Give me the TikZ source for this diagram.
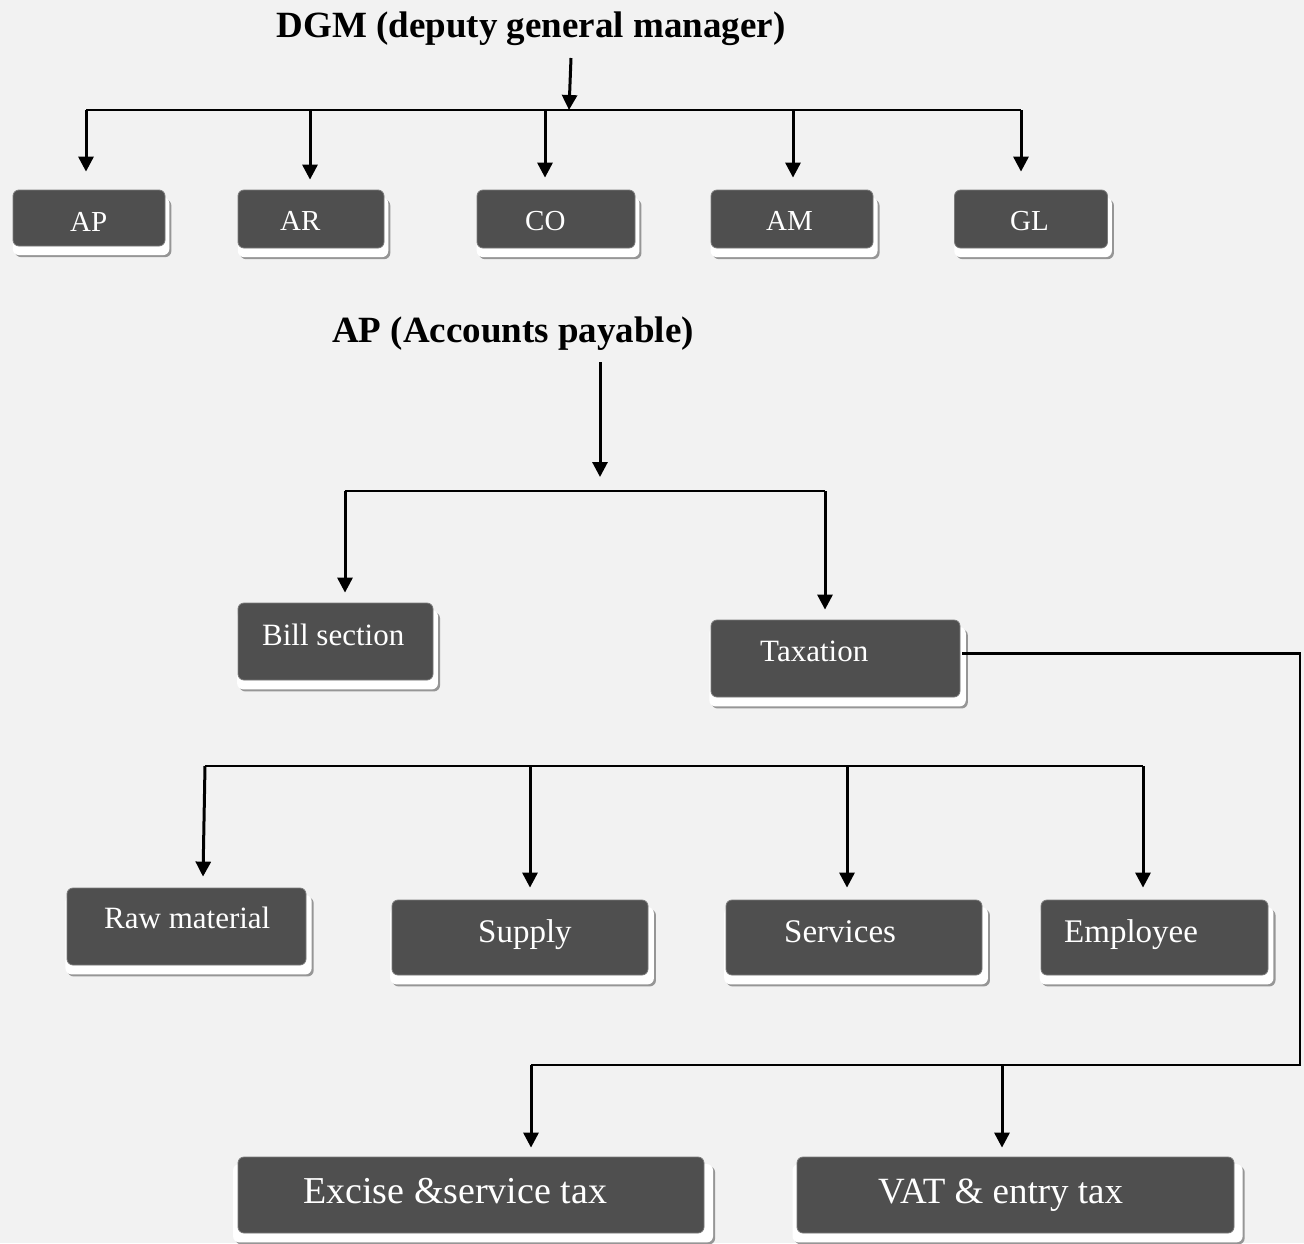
\documentclass[tikz,border=0pt]{standalone}
\usepackage{fontspec}
\setmainfont{Liberation Serif}
\usetikzlibrary{arrows.meta,shadows}
\definecolor{boxgray}{RGB}{79,79,79}
\definecolor{pagegray}{RGB}{242,242,242}
\definecolor{shadowgray}{RGB}{150,150,150}
\tikzset{
  unitbox/.style={rectangle,rounded corners=6pt,fill=boxgray,draw=boxgray!75!white,line width=0.8pt,inner sep=0pt,
    general shadow={shadow xshift=4pt,shadow yshift=-10pt,shadow scale=1.03,fill=shadowgray},
    general shadow={shadow xshift=2pt,shadow yshift=-8pt,shadow scale=1.03,fill=white}},
  unittext/.style={text=white,inner sep=0pt,anchor=base west},
  titletext/.style={inner sep=0pt,anchor=base,font=\fontsize{37}{42}\selectfont\bfseries},
  droparrow/.style={-{Triangle[length=15pt,width=15pt]},line width=3pt},
  busline/.style={line width=2.4pt}
}
\begin{document}
\begin{tikzpicture}[x=1pt,y=-1pt]
        % Page
        \fill[pagegray](0,0)rectangle(1304,1243);
        \useasboundingbox(0,0)rectangle(1304,1243);
        % Headings
        \node[titletext](dgm)at(531,37){DGM (deputy general manager)};
        \node[titletext](aphead)at(513,342){AP (Accounts payable)};
        % Modules under DGM
        \node[unitbox,minimum width=152pt,minimum height=56pt](ap)at(89,218){};
        \node[unitbox,minimum width=146pt,minimum height=58pt](ar)at(311,219){};
        \node[unitbox,minimum width=158pt,minimum height=58pt](co)at(556,219){};
        \node[unitbox,minimum width=162pt,minimum height=58pt](am)at(792,219){};
        \node[unitbox,minimum width=153pt,minimum height=58pt](gl)at(1031,219){};
        \node[unittext,font=\fontsize{29}{33}\selectfont](aptext)at(70,231){AP};
        \node[unittext,font=\fontsize{29}{33}\selectfont](artext)at(280,230){AR};
        \node[unittext,font=\fontsize{29}{33}\selectfont](cotext)at(525,230){CO};
        \node[unittext,font=\fontsize{29}{33}\selectfont](amtext)at(766,230){AM};
        \node[unittext,font=\fontsize{29}{33}\selectfont](gltext)at(1010,230){GL};
        % Sections under AP
        \node[unitbox,minimum width=195pt,minimum height=77pt](bill)at(335.5,641.5){};
        \node[unitbox,minimum width=249pt,minimum height=77pt](tax)at(835.5,658.5){};
        \node[unittext,font=\fontsize{31}{35}\selectfont](billtext)at(262,645){Bill section};
        \node[unittext,font=\fontsize{31}{35}\selectfont](taxtext)at(760,661){Taxation};
        % Payable groups
        \node[unitbox,minimum width=239pt,minimum height=77pt](raw)at(186.5,926.5){};
        \node[unitbox,minimum width=256pt,minimum height=75pt](supply)at(520,937.5){};
        \node[unitbox,minimum width=256pt,minimum height=75pt](serv)at(854,937.5){};
        \node[unitbox,minimum width=227pt,minimum height=75pt](emp)at(1154.5,937.5){};
        \node[unittext,font=\fontsize{31}{35}\selectfont](rawtext)at(104,928){Raw material};
        \node[unittext,font=\fontsize{33}{37}\selectfont](supplytext)at(478,942){Supply};
        \node[unittext,font=\fontsize{33}{37}\selectfont](servtext)at(784,942){Services};
        \node[unittext,font=\fontsize{33}{37}\selectfont](emptext)at(1064,942){Employee};
        % Taxes
        \node[unitbox,minimum width=466pt,minimum height=76pt](excise)at(471,1195){};
        \node[unitbox,minimum width=437pt,minimum height=76pt](vat)at(1015.5,1195){};
        \node[unittext,font=\fontsize{38}{42}\selectfont](excisetext)at(303,1203){Excise \&service tax};
        \node[unittext,font=\fontsize{37}{41}\selectfont](vattext)at(878,1203){VAT \& entry tax};
        % Junctions
        \coordinate(dgmfoot)at(571,58);
        \coordinate(dgmjoin)at(569,110);
        \coordinate(topleft)at(86,110);
        \coordinate(topright)at(1021,110);
        \coordinate(apfoot)at(600,362);
        \coordinate(aptip)at(600,477);
        \coordinate(apleft)at(345,491);
        \coordinate(apright)at(825,491);
        \coordinate(groupleft)at(205,766);
        \coordinate(groupright)at(1143,766);
        \coordinate(taxturn)at(1300,1065);
        \coordinate(taxleft)at(531,1065);
        % DGM tree
        \draw[droparrow](dgmfoot)--(dgmjoin);
        \draw[busline](topleft)--(topright);
        \draw[droparrow](topleft)--([xshift=-3pt,yshift=18pt]ap.north);
        \draw[droparrow](310,110)--([xshift=-1pt,yshift=10pt]ar.north);
        \draw[droparrow](545,110)--([xshift=-11pt,yshift=12pt]co.north);
        \draw[droparrow](793,110)--([xshift=1pt,yshift=12pt]am.north);
        \draw[droparrow](topright)--([xshift=-10pt,yshift=18pt]gl.north);
        % AP tree
        \draw[droparrow](apfoot)--(aptip);
        \draw[busline](apleft)--(apright);
        \draw[droparrow](apleft)--([xshift=9.5pt,yshift=10pt]bill.north);
        \draw[droparrow](apright)--([xshift=-10.5pt,yshift=10pt]tax.north);
        % Payable groups
        \draw[busline](groupleft)--(groupright);
        \draw[droparrow](groupleft)--([xshift=16.5pt,yshift=11pt]raw.north);
        \draw[droparrow](530,766)--([xshift=10pt,yshift=12pt]supply.north);
        \draw[droparrow](847,766)--([xshift=-7pt,yshift=12pt]serv.north);
        \draw[droparrow](groupright)--([xshift=-11.5pt,yshift=12pt]emp.north);
        % Taxation branch
        \draw[busline]([xshift=2pt,yshift=5pt]tax.east)-|(taxturn)--(taxleft);
        \draw[droparrow](taxleft)--([xshift=60pt,yshift=9pt]excise.north);
        \draw[droparrow](1002,1065)--([xshift=-13.5pt,yshift=9pt]vat.north);
    \end{tikzpicture}
\end{document}
